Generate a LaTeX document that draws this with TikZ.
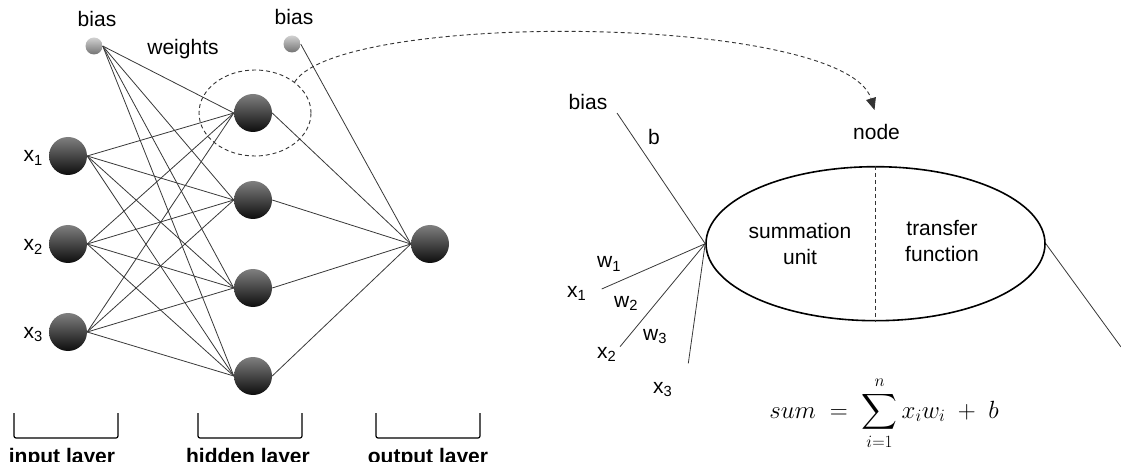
\documentclass[tikz,border=0pt]{standalone}
\usepackage{amsmath}
\usepackage{fontspec}
\setmainfont{Liberation Sans}
\usetikzlibrary{shapes.geometric,arrows.meta,backgrounds}
\begin{document}
\begin{tikzpicture}[x=1pt,y=-1pt,
  every node/.style={font=\fontsize{21}{26}\selectfont, inner sep=0pt},
  neuron/.style={circle, minimum size=38pt, inner sep=0pt, top color=black!50, bottom color=black!95, draw=none},
  biasnode/.style={circle, minimum size=17pt, inner sep=0pt, top color=black!18, bottom color=black!55, draw=none},
  edge/.style={draw=black!78, line width=0.8pt},
  bracketline/.style={draw=black, line width=1.2pt, rounded corners=2pt},
  layerlabel/.style={font=\fontsize{21}{26}\selectfont\bfseries, anchor=base},
  dashline/.style={draw=black!80, line width=0.9pt, dash pattern=on 4pt off 3pt},
  lbl/.style={anchor=base west}]
\useasboundingbox (0,0) rectangle (1121,462);

% ---------- network ----------
\node[biasnode] (bias1) at (94,46) {};
\node[biasnode] (bias2) at (292,44) {};
\node[neuron] (in1) at (68,156) {};
\node[neuron] (in2) at (68,244) {};
\node[neuron] (in3) at (68,332) {};
\node[neuron] (h1) at (253,113) {};
\node[neuron] (h2) at (253,200) {};
\node[neuron] (h3) at (253,288) {};
\node[neuron] (h4) at (253,376) {};
\node[neuron] (out) at (430,244) {};

\begin{scope}[on background layer]
  \foreach \i in {1,2,3} {
    \foreach \j in {1,2,3,4} {
      \draw[edge] (in\i.east) -- (h\j.west);
    }
  }
  \foreach \j in {1,2,3,4} {
    \draw[edge] (bias1.east) -- (h\j.west);
    \draw[edge] (h\j.east) -- (out.west);
  }
  \draw[edge] (bias2.east) -- (out.west);
\end{scope}

\node[anchor=base] (lb1) at (97,27) {bias};
\node[anchor=base] (lb2) at (294,25) {bias};
\node[anchor=base] (lw) at (183,55) {weights};
\node[anchor=base east] (lx1) at (43,162) {x\textsubscript{1}};
\node[anchor=base east] (lx2) at (43,251) {x\textsubscript{2}};
\node[anchor=base east] (lx3) at (43,338) {x\textsubscript{3}};

\node[ellipse, dashline, minimum width=112pt, minimum height=86pt] (focus) at (255,113) {};

% brackets
\draw[bracketline] (14,413) -- (14,438) -- (118,438) -- (118,413);
\draw[bracketline] (198,413) -- (198,438) -- (302,438) -- (302,413);
\draw[bracketline] (376,413) -- (376,438) -- (480,438) -- (480,413);
\node[layerlabel] (lin) at (62,463) {input layer};
\node[layerlabel] (lhid) at (248,463) {hidden layer};
\node[layerlabel] (lout) at (428,463) {output layer};

% ---------- single node ----------
\node[ellipse, draw=black, line width=1.6pt, minimum width=339pt, minimum height=154pt] (unit) at (875.5,243.7) {};
\draw[dashline] (unit.north) -- (unit.south);
\node[align=center] (sumtxt) at (800,243.5) {summation\\unit};
\node[align=center] (tftxt) at (942,241.5) {transfer\\function};
\node[anchor=base] (nodelbl) at (876.5,140) {node};

\coordinate (tip) at (874.5,110);
\draw[dashline, -{Triangle[length=12pt,width=10pt]}] (focus.38) .. controls (340,10) and (845,14) .. (tip);

\coordinate (biasend) at (617,113);
\coordinate (x1end) at (601.7,289);
\coordinate (x2end) at (620,346.7);
\coordinate (x3end) at (688.3,363.3);
\coordinate (outend) at (1121,347);
\draw[edge] (biasend) -- (unit.west);
\draw[edge] (x1end) -- (unit.west);
\draw[edge] (x2end) -- (unit.west);
\draw[edge] (x3end) -- (unit.west);
\draw[edge] (unit.east) -- (outend);

\node[anchor=base] (rbias) at (588,110) {bias};
\node[lbl] (rb) at (648,145) {b};
\node[lbl] (rw1) at (597,268) {w\textsubscript{1}};
\node[lbl] (rx1) at (567,297) {x\textsubscript{1}};
\node[lbl] (rw2) at (614,307) {w\textsubscript{2}};
\node[lbl] (rx2) at (597,358) {x\textsubscript{2}};
\node[lbl] (rw3) at (643,340) {w\textsubscript{3}};
\node[lbl] (rx3) at (653,393) {x\textsubscript{3}};

\node[anchor=base, font=\fontsize{26}{30}\selectfont] (formula) at (884,418) {$\displaystyle sum \;=\; \sum_{i=1}^{n} x_i w_i \;+\; b$};
\end{tikzpicture}
\end{document}
